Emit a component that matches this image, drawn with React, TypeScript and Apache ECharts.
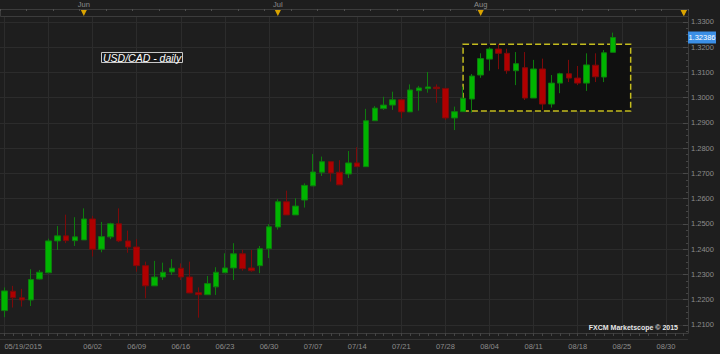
import React, { useEffect, useRef } from "react";
import * as echarts from "echarts";

// Trading-day categories (05/19/2015 ... plus future slots on the right)
const dates = [
  "05/19", "05/20", "05/21", "05/22", "05/25", "05/26", "05/27", "05/28", "05/29",
  "06/01", "06/02", "06/03", "06/04", "06/05", "06/08", "06/09", "06/10", "06/11", "06/12",
  "06/15", "06/16", "06/17", "06/18", "06/19", "06/22", "06/23", "06/24", "06/25", "06/26",
  "06/29", "06/30", "07/01", "07/02", "07/03", "07/06", "07/07", "07/08", "07/09", "07/10",
  "07/13", "07/14", "07/15", "07/16", "07/17", "07/20", "07/21", "07/22", "07/23", "07/24",
  "07/27", "07/28", "07/29", "07/30", "07/31", "08/03", "08/04", "08/05", "08/06", "08/07",
  "08/10", "08/11", "08/12", "08/13", "08/14", "08/17", "08/18", "08/19", "08/20", "08/21",
  "08/24", "08/25", "08/26", "08/27", "08/28", "08/29", "08/30", "08/31", "09/01",
];

const opens = [
  1.2157, 1.2234, 1.2208, 1.2199, 1.2282, 1.2307, 1.2433, 1.2453, 1.2434, 1.2437,
  1.2520, 1.2400, 1.2449, 1.2501, 1.2433, 1.2409, 1.2335, 1.2255, 1.2290, 1.2310,
  1.2325, 1.2290, 1.2228, 1.2220, 1.2251, 1.2307, 1.2326, 1.2382, 1.2326, 1.2335,
  1.2402, 1.2488, 1.2588, 1.2536, 1.2595, 1.2651, 1.2705, 1.2747, 1.2705, 1.2698,
  1.2742, 1.2727, 1.2909, 1.2957, 1.2971, 1.2992, 1.2944, 1.3028, 1.3036, 1.3042,
  1.3037, 1.2920, 1.2945, 1.2995, 1.3090, 1.3153, 1.3193, 1.3176, 1.3107, 1.3119,
  1.2999, 1.3114, 1.2975, 1.3058, 1.3095, 1.3078, 1.3058, 1.3129, 1.3082, 1.3180,
];
const closes = [
  1.2235, 1.2208, 1.2199, 1.2280, 1.2309, 1.2433, 1.2453, 1.2434, 1.2449, 1.2520,
  1.2400, 1.2450, 1.2501, 1.2433, 1.2409, 1.2335, 1.2255, 1.2290, 1.2309, 1.2325,
  1.2290, 1.2227, 1.2220, 1.2264, 1.2309, 1.2326, 1.2382, 1.2323, 1.2315, 1.2402,
  1.2489, 1.2588, 1.2536, 1.2571, 1.2653, 1.2706, 1.2747, 1.2702, 1.2655, 1.2742,
  1.2727, 1.2909, 1.2959, 1.2971, 1.2992, 1.2944, 1.3031, 1.3039, 1.3043, 1.3036,
  1.2920, 1.2945, 1.2998, 1.3086, 1.3155, 1.3193, 1.3176, 1.3107, 1.3135, 1.2999,
  1.3114, 1.2975, 1.3058, 1.3095, 1.3078, 1.3058, 1.3130, 1.3083, 1.3178, 1.32386,
];
const lows = [
  1.2131, 1.2169, 1.2173, 1.2175, 1.2280, 1.2305, 1.2397, 1.2424, 1.2413, 1.2437,
  1.2371, 1.2388, 1.2440, 1.2428, 1.2386, 1.2311, 1.2206, 1.2255, 1.2278, 1.2298,
  1.2278, 1.2226, 1.2129, 1.2219, 1.2219, 1.2306, 1.2278, 1.2315, 1.2311, 1.2305,
  1.2365, 1.2478, 1.2536, 1.2536, 1.2565, 1.2651, 1.2690, 1.2668, 1.2655, 1.2682,
  1.2725, 1.2727, 1.2909, 1.2952, 1.2952, 1.2919, 1.2943, 1.2949, 1.3020, 1.2980,
  1.2912, 1.2872, 1.2945, 1.2941, 1.3079, 1.3107, 1.3113, 1.3095, 1.3050, 1.2991,
  1.2999, 1.2952, 1.2961, 1.3018, 1.3062, 1.3050, 1.3027, 1.3062, 1.3062, 1.3180,
];
const highs = [
  1.2249, 1.2255, 1.2243, 1.2321, 1.2318, 1.2442, 1.2492, 1.2537, 1.2527, 1.2562,
  1.2532, 1.2508, 1.2505, 1.2562, 1.2474, 1.2440, 1.2351, 1.2354, 1.2347, 1.2361,
  1.2344, 1.2351, 1.2249, 1.2294, 1.2329, 1.2384, 1.2424, 1.2398, 1.2397, 1.2413,
  1.2500, 1.2598, 1.2632, 1.2602, 1.2661, 1.2777, 1.2767, 1.2747, 1.2753, 1.2789,
  1.2804, 1.2956, 1.2967, 1.3004, 1.3024, 1.2992, 1.3053, 1.3047, 1.3102, 1.3053,
  1.3037, 1.2965, 1.3044, 1.3094, 1.3176, 1.3200, 1.3213, 1.3194, 1.3181, 1.3181,
  1.3150, 1.3155, 1.3090, 1.3099, 1.3150, 1.3126, 1.3176, 1.3176, 1.3189, 1.3258,
];

// Right-axis tick labels
const priceTicks = [1.21, 1.22, 1.23, 1.24, 1.25, 1.26, 1.27, 1.28, 1.29, 1.3, 1.31, 1.32, 1.33];
const minorTicks = [
  1.2075, 1.21, 1.2125, 1.215, 1.2175, 1.22, 1.2225, 1.225, 1.2275, 1.23, 1.2325, 1.235,
  1.2375, 1.24, 1.2425, 1.245, 1.2475, 1.25, 1.2525, 1.255, 1.2575, 1.26, 1.2625, 1.265,
  1.2675, 1.27, 1.2725, 1.275, 1.2775, 1.28, 1.2825, 1.285, 1.2875, 1.29, 1.2925, 1.295,
  1.2975, 1.3, 1.3025, 1.305, 1.3075, 1.31, 1.3125, 1.315, 1.3175, 1.32, 1.3225, 1.325,
  1.3275, 1.33,
];
const monthNames: Record<string, string> = { "06": "Jun", "07": "Jul", "08": "Aug" };
const yearSuffix = "/2015";
const title = "USD/CAD - daily";
const watermark = "FXCM Marketscope © 2015";

// highlighted consolidation range (category index / price)
const boxFrom = { idx: 52, price: 1.3212 };
const boxTo = { idx: 71, price: 1.2948 };

const Y_MIN = 1.20683;
const Y_MAX = 1.33198;
const FONT = "'Liberation Sans', Arial, sans-serif";

const isWeekLabel = (i: number) => i % 5 === 0 && i !== 5;
const isMonthStart = (i: number) =>
  i > 0 && dates[i].slice(0, 2) !== dates[i - 1].slice(0, 2);

export default function App() {
  const ref = useRef<HTMLDivElement>(null);

  useEffect(() => {
    if (!ref.current) return;
    const chart = echarts.init(ref.current, undefined, { renderer: "svg" });
    const candles = opens.map((o, i) => [o, closes[i], lows[i], highs[i]]);
    const last = closes[closes.length - 1];

    chart.setOption({
      animation: false,
      backgroundColor: "#1e1e1e",
      textStyle: { fontFamily: FONT },
      title: {
        text: title,
        left: 101,
        top: 52,
        padding: [0, 2],
        borderColor: "#c8c8c8",
        borderWidth: 1,
        backgroundColor: "#181818",
        textStyle: {
          color: "#ffffff",
          fontStyle: "italic",
          fontWeight: "normal",
          fontSize: 10.5,
          lineHeight: 11,
          fontFamily: FONT,
        },
      },
      grid: {
        left: 0,
        right: 32,
        top: 17,
        bottom: 21,
        outerBoundsMode: "none",
        containLabel: false,
      },
      xAxis: [
        {
          type: "category",
          data: dates,
          boundaryGap: true,
          axisLine: { show: true, lineStyle: { color: "#3c3c3c" } },
          axisTick: {
            show: true,
            interval: 0,
            alignWithLabel: true,
            length: 3,
            lineStyle: { color: "#454545" },
          },
          axisLabel: {
            interval: (i: number) => isWeekLabel(i),
            formatter: (v: string, i: number) => (i === 0 ? v + yearSuffix : v),
            color: "#8c8c8c",
            fontSize: 7.5,
            fontFamily: FONT,
            margin: 9,
            alignMinLabel: "left",
          },
          splitLine: {
            show: true,
            interval: (i: number) => i % 5 === 0,
            alignWithLabel: true,
            lineStyle: { color: "#2c2c2c", width: 1 },
          },
        },
        {
          type: "category",
          data: dates,
          position: "top",
          offset: 8,
          boundaryGap: true,
          axisLine: { show: true, lineStyle: { color: "#3c3c3c" } },
          axisTick: {
            show: true,
            inside: true,
            interval: 2,
            length: 2,
            lineStyle: { color: "#505050" },
          },
          axisLabel: {
            interval: (i: number) => isMonthStart(i),
            formatter: (v: string) => monthNames[v.slice(0, 2)] || "",
            color: "#8c8c8c",
            fontSize: 7.5,
            fontFamily: FONT,
            margin: 1,
          },
          splitLine: { show: false },
        },
      ],
      yAxis: [
        {
          type: "value",
          position: "right",
          min: Y_MIN,
          max: Y_MAX,
          splitNumber: 12,
          axisLine: { show: false },
          axisTick: {
            show: true,
            inside: true,
            length: 5,
            customValues: priceTicks,
            lineStyle: { color: "#4a4a4a" },
          },
          axisLabel: {
            customValues: priceTicks,
            formatter: (v: number) => v.toFixed(4),
            color: "#8c8c8c",
            fontSize: 7.5,
            fontFamily: FONT,
            margin: 3,
          },
          splitLine: {
            show: true,
            customValues: priceTicks,
            lineStyle: { color: "#2c2c2c", width: 1 },
          },
        },
        {
          type: "value",
          position: "right",
          min: Y_MIN,
          max: Y_MAX,
          axisLine: { show: true, lineStyle: { color: "#3c3c3c" } },
          axisTick: {
            show: true,
            inside: true,
            length: 2,
            customValues: minorTicks,
            lineStyle: { color: "#454545" },
          },
          axisLabel: { show: false },
          splitLine: { show: false },
        },
      ],
      series: [
        {
          type: "candlestick",
          xAxisIndex: 0,
          yAxisIndex: 0,
          z: 3,
          barWidth: 6,
          data: candles,
          itemStyle: {
            color: "#00b400",
            color0: "#b00000",
            borderColor: "#0e7c0e",
            borderColor0: "#7c0a0a",
            borderWidth: 1,
          },
        },
      ],
    });

    const px = (idx: number, price: number) =>
      chart.convertToPixel({ xAxisIndex: 0, yAxisIndex: 0 }, [idx, price]) as number[];
    const p1 = px(boxFrom.idx, boxFrom.price);
    const p2 = px(boxTo.idx, boxTo.price);
    const monthIdx = dates.map((_, i) => i).filter((i) => isMonthStart(i));
    const rightEdge = px(dates.length - 1, Y_MAX)[0] + 4.4;
    const lastY = px(0, last)[1];
    const tri = (x: number) => ({
      type: "polygon",
      z: 5,
      shape: { points: [[x - 3, 10], [x + 3, 10], [x, 16]] },
      style: { fill: "#d9a300" },
    });

    chart.setOption({
      graphic: [
        {
          type: "rect",
          z: -1,
          shape: { x: 0.5, y: 9.5, width: rightEdge, height: 7 },
          style: { fill: "#1e1e1e", stroke: "#3c3c3c", lineWidth: 1 },
        },
        {
          type: "line",
          z: 1,
          shape: { x1: 0, y1: 339.5, x2: rightEdge, y2: 339.5 },
          style: { stroke: "#333333", lineWidth: 1 },
        },
        {
          type: "rect",
          z: 1,
          shape: { x: p1[0], y: p1[1], width: p2[0] - p1[0], height: p2[1] - p1[1] },
          style: {
            fill: "#101010",
            stroke: "#c4bc1e",
            lineWidth: 1.5,
            lineDash: [6, 3],
          },
        },
        ...monthIdx.map((i) => tri(px(i, Y_MAX)[0])),
        tri(rightEdge - 4),
        {
          type: "rect",
          z: 10,
          shape: { x: rightEdge, y: lastY - 6, width: 28, height: 12 },
          style: { fill: "#3b8fe6" },
        },
        {
          type: "text",
          z: 11,
          x: rightEdge + 14,
          y: lastY,
          style: {
            text: last.toFixed(5),
            fill: "#ffffff",
            font: `7.5px ${FONT}`,
            align: "center",
            verticalAlign: "middle",
          },
        },
        {
          type: "text",
          z: 6,
          right: 42,
          top: 324,
          style: {
            text: watermark,
            fill: "#e6e6e6",
            font: `bold 7px ${FONT}`,
          },
        },
      ],
    });

    return () => chart.dispose();
  }, []);

  return (
    <div
      ref={ref}
      style={{ position: "fixed", left: 0, top: 0, width: 720, height: 354, background: "#1e1e1e" }}
    />
  );
}
